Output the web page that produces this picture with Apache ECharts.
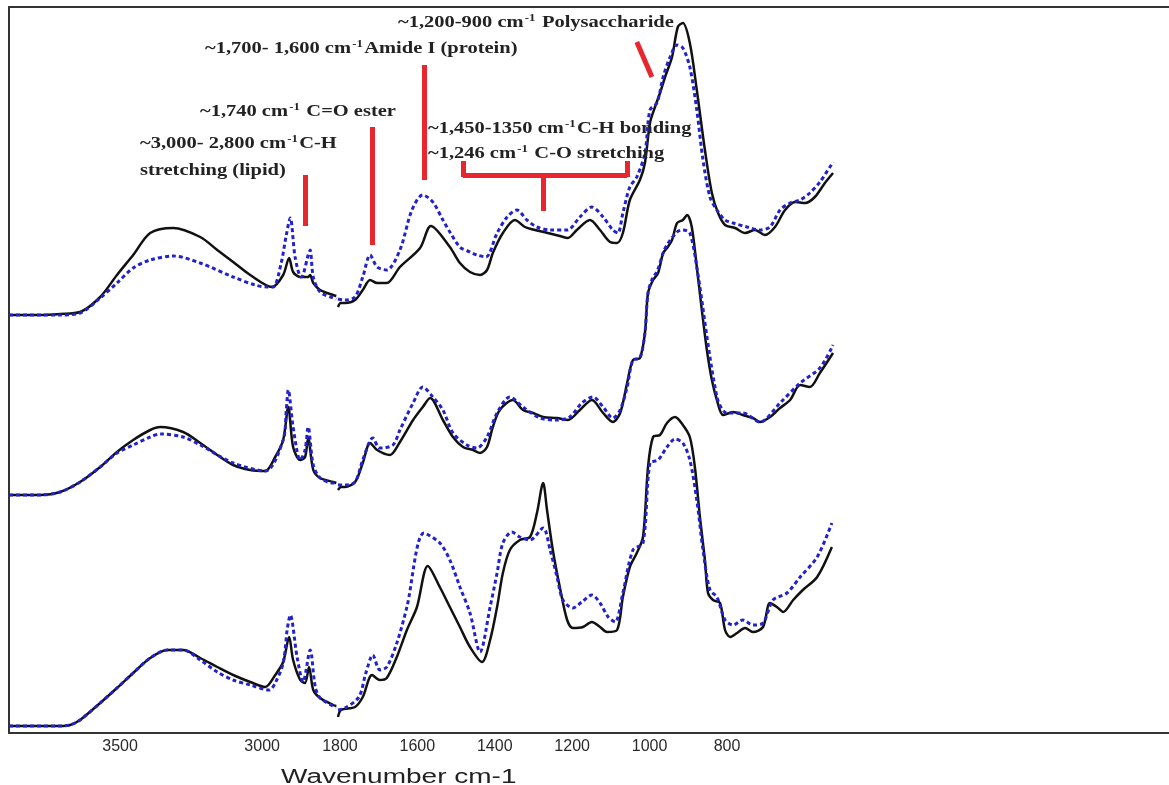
<!DOCTYPE html>
<html><head><meta charset="utf-8">
<script src="https://cdn.jsdelivr.net/npm/echarts@6/dist/echarts.min.js"></script>
<style>html,body{margin:0;padding:0;background:#fff}#c{width:1169px;height:785px}</style>
</head><body><div id="c"></div>
<script>
// Tick labels (wavenumber, cm-1) on the broken axis
const leftTicks = [3500, 3000];
const rightTicks = [1800, 1600, 1400, 1200, 1000, 800];

// Sample 1 (top pair) [wavenumber, absorbance offset units]
const s1BlackLeft = [[3891,2.09],[3782,2.09],[3711,2.095],[3641,2.105],[3570,2.18],[3511,2.29],[3454,2.39],[3394,2.50],[3313,2.525],[3218,2.48],[3158,2.415],[3102,2.355],[3042,2.29],[2965,2.23],[2926,2.29],[2905,2.375],[2891,2.305],[2866,2.28],[2838,2.28],[2831,2.29],[2820,2.25],[2796,2.215],[2750,2.19],[2739,2.185]];
const s1BlackRight = [[1805,2.13],[1798,2.15],[1787,2.15],[1761,2.165],[1741,2.215],[1722,2.265],[1704,2.25],[1679,2.25],[1645,2.33],[1593,2.425],[1565,2.535],[1516,2.43],[1490,2.35],[1464,2.305],[1438,2.29],[1420,2.315],[1405,2.40],[1379,2.50],[1348,2.565],[1322,2.53],[1296,2.515],[1263,2.50],[1232,2.485],[1211,2.475],[1188,2.515],[1154,2.565],[1128,2.515],[1102,2.455],[1084,2.45],[1069,2.50],[1051,2.665],[1025,2.765],[1012,2.85],[999,3.05],[986,3.13],[973,3.20],[960,3.28],[942,3.38],[927,3.53],[914,3.55],[896,3.45],[878,3.215],[857,2.915],[839,2.70],[823,2.60],[805,2.54],[779,2.525],[753,2.50],[728,2.515],[702,2.49],[676,2.53],[650,2.615],[624,2.655],[598,2.65],[573,2.68],[547,2.75],[526,2.80]];
const s1BlueLeft = [[3891,2.09],[3782,2.09],[3711,2.09],[3641,2.10],[3570,2.175],[3511,2.25],[3454,2.325],[3394,2.365],[3313,2.385],[3218,2.35],[3102,2.28],[3025,2.24],[2982,2.23],[2961,2.23],[2933,2.35],[2915,2.49],[2901,2.575],[2884,2.38],[2863,2.28],[2856,2.29],[2838,2.39],[2831,2.415],[2820,2.28],[2796,2.205],[2750,2.175],[2739,2.17]];
const s1BlueRight = [[1805,2.17],[1787,2.165],[1761,2.18],[1741,2.28],[1722,2.39],[1704,2.33],[1679,2.315],[1645,2.415],[1614,2.615],[1586,2.69],[1560,2.655],[1534,2.565],[1516,2.505],[1490,2.43],[1464,2.405],[1446,2.39],[1423,2.38],[1394,2.50],[1368,2.58],[1343,2.615],[1317,2.565],[1291,2.53],[1257,2.515],[1213,2.515],[1180,2.58],[1149,2.63],[1120,2.58],[1095,2.515],[1082,2.50],[1069,2.60],[1051,2.73],[1033,2.78],[1012,2.90],[999,3.115],[981,3.15],[965,3.28],[947,3.38],[929,3.44],[914,3.425],[896,3.33],[878,3.115],[862,2.865],[844,2.68],[826,2.615],[805,2.565],[784,2.55],[748,2.53],[715,2.515],[689,2.53],[663,2.615],[637,2.65],[611,2.665],[586,2.70],[560,2.755],[526,2.855]];

// Sample 2 (middle pair)
const s2BlackLeft = [[3891,1.19],[3782,1.19],[3711,1.205],[3641,1.255],[3570,1.33],[3511,1.405],[3454,1.465],[3394,1.515],[3359,1.53],[3278,1.505],[3218,1.45],[3158,1.39],[3102,1.34],[3042,1.315],[2989,1.31],[2954,1.38],[2926,1.465],[2908,1.63],[2891,1.43],[2866,1.365],[2849,1.38],[2838,1.475],[2820,1.315],[2796,1.275],[2750,1.255],[2739,1.25]];
const s2BlackRight = [[1805,1.215],[1797,1.23],[1787,1.23],[1761,1.255],[1741,1.35],[1722,1.45],[1704,1.415],[1671,1.39],[1645,1.455],[1611,1.565],[1586,1.63],[1567,1.675],[1534,1.565],[1508,1.48],[1482,1.43],[1456,1.415],[1438,1.40],[1420,1.43],[1405,1.53],[1387,1.615],[1353,1.665],[1327,1.615],[1301,1.60],[1275,1.58],[1239,1.575],[1211,1.565],[1180,1.615],[1149,1.665],[1120,1.60],[1095,1.555],[1076,1.60],[1058,1.75],[1043,1.865],[1025,1.875],[1012,2.00],[1004,2.20],[991,2.265],[978,2.30],[965,2.40],[955,2.425],[942,2.465],[929,2.55],[914,2.565],[903,2.59],[891,2.53],[878,2.33],[865,2.115],[852,1.915],[839,1.765],[826,1.665],[810,1.59],[784,1.605],[759,1.59],[733,1.575],[715,1.555],[689,1.58],[663,1.625],[637,1.665],[611,1.74],[586,1.73],[560,1.80],[526,1.90]];
const s2BlueLeft = [[3891,1.19],[3782,1.19],[3711,1.205],[3641,1.255],[3570,1.33],[3511,1.40],[3454,1.44],[3394,1.48],[3359,1.495],[3278,1.48],[3218,1.44],[3102,1.35],[2989,1.31],[2926,1.465],[2915,1.615],[2908,1.715],[2891,1.53],[2866,1.365],[2849,1.415],[2838,1.53],[2820,1.34],[2796,1.275],[2750,1.25],[2739,1.25]];
const s2BlueRight = [[1805,1.24],[1787,1.24],[1761,1.255],[1741,1.365],[1715,1.475],[1697,1.425],[1663,1.44],[1645,1.515],[1611,1.65],[1586,1.73],[1560,1.68],[1534,1.615],[1508,1.50],[1472,1.44],[1446,1.425],[1420,1.48],[1394,1.60],[1361,1.68],[1327,1.63],[1283,1.575],[1239,1.565],[1206,1.58],[1175,1.65],[1146,1.68],[1120,1.63],[1095,1.575],[1076,1.615],[1058,1.73],[1043,1.865],[1025,1.875],[1012,2.00],[1004,2.20],[991,2.28],[981,2.305],[965,2.40],[955,2.44],[929,2.505],[914,2.515],[896,2.50],[878,2.33],[826,1.68],[800,1.60],[759,1.60],[715,1.555],[663,1.65],[611,1.75],[560,1.825],[526,1.94]];

// Sample 3 (bottom pair)
const s3BlackLeft = [[3891,0.035],[3782,0.035],[3711,0.035],[3676,0.04],[3641,0.065],[3570,0.15],[3511,0.225],[3454,0.30],[3394,0.375],[3334,0.415],[3278,0.415],[3218,0.375],[3158,0.33],[3102,0.29],[3042,0.255],[2989,0.23],[2954,0.29],[2926,0.355],[2905,0.48],[2891,0.365],[2866,0.265],[2849,0.25],[2835,0.33],[2820,0.215],[2796,0.175],[2750,0.14],[2739,0.135]];
const s3BlackRight = [[1805,0.08],[1797,0.115],[1761,0.13],[1741,0.18],[1717,0.29],[1697,0.265],[1679,0.275],[1653,0.38],[1627,0.515],[1601,0.63],[1573,0.835],[1542,0.73],[1516,0.63],[1490,0.53],[1464,0.43],[1433,0.355],[1412,0.465],[1394,0.63],[1379,0.80],[1361,0.915],[1335,0.965],[1309,0.98],[1291,1.10],[1275,1.25],[1265,1.115],[1250,0.915],[1232,0.73],[1213,0.565],[1198,0.525],[1172,0.53],[1149,0.555],[1128,0.53],[1110,0.505],[1084,0.515],[1069,0.68],[1051,0.83],[1033,0.90],[1017,0.98],[1004,1.33],[991,1.48],[973,1.49],[955,1.55],[934,1.58],[914,1.54],[896,1.48],[883,1.33],[870,1.08],[857,0.865],[849,0.70],[836,0.665],[818,0.65],[805,0.515],[792,0.48],[774,0.50],[753,0.525],[733,0.505],[707,0.53],[689,0.65],[671,0.63],[655,0.605],[629,0.665],[604,0.715],[567,0.78],[529,0.93]];
const s3BlueLeft = [[3891,0.035],[3782,0.035],[3711,0.035],[3676,0.04],[3641,0.065],[3570,0.15],[3511,0.225],[3454,0.30],[3394,0.375],[3334,0.415],[3278,0.415],[3218,0.365],[3158,0.305],[3102,0.265],[3042,0.24],[2975,0.215],[2954,0.25],[2926,0.35],[2912,0.515],[2901,0.59],[2877,0.38],[2856,0.255],[2831,0.415],[2813,0.23],[2796,0.175],[2750,0.135],[2739,0.13]];
const s3BlueRight = [[1805,0.115],[1787,0.125],[1751,0.18],[1733,0.30],[1715,0.39],[1697,0.315],[1679,0.33],[1653,0.45],[1627,0.63],[1583,1.00],[1542,0.95],[1516,0.865],[1490,0.73],[1464,0.60],[1438,0.405],[1412,0.63],[1394,0.80],[1379,0.95],[1356,1.005],[1335,0.98],[1309,0.965],[1275,1.025],[1257,0.915],[1239,0.78],[1224,0.665],[1198,0.625],[1175,0.655],[1149,0.69],[1128,0.65],[1107,0.58],[1089,0.555],[1069,0.70],[1043,0.915],[1017,0.95],[999,1.35],[978,1.365],[955,1.43],[934,1.47],[914,1.45],[896,1.365],[878,1.165],[862,0.915],[844,0.715],[826,0.68],[805,0.565],[784,0.54],[759,0.565],[733,0.54],[707,0.55],[681,0.665],[645,0.70],[611,0.78],[567,0.88],[529,1.05]];

// Red annotation marks in data units: [w1, a1, w2, a2]
const redMarksLeft = [[2849,2.79,2849,2.535]];
const redMarksRight = [
  [1717,3.03,1717,2.44],
  [1583,3.34,1583,2.765],
  [1033,3.455,994,3.28],
  [1482,2.79,1058,2.79],
  [1482,2.86,1482,2.78],
  [1058,2.86,1058,2.78],
  [1275,2.79,1275,2.61]
];

// Annotation texts: [prefix, superscript, suffix]
const annotations = [
  {x:398, y:22, t:['~1,200-900 cm','-1',' Polysaccharide']},
  {x:205, y:48, t:['~1,700- 1,600 cm','-1','Amide I (protein)']},
  {x:200, y:111, t:['~1,740 cm','-1',' C=O ester']},
  {x:428, y:128, t:['~1,450-1350 cm','-1','C-H bonding']},
  {x:428, y:153, t:['~1,246 cm','-1',' C-O stretching']},
  {x:140, y:143, t:['~3,000- 2,800 cm','-1','C-H']},
  {x:140, y:170, t:['stretching (lipid)','','']}
];

const AXIS = '#333';
const RED = '#e8262d';
const BLACK = '#111111';
const BLUE = '#2222cc';

function curve(data, grid, isBlue, marks) {
  const s = {
    type: 'line', data: data, xAxisIndex: grid, yAxisIndex: grid,
    showSymbol: false, smooth: 0.3, silent: true, z: isBlue ? 3 : 2,
    lineStyle: isBlue ? {color: BLUE, width: 3, type: [4, 3], cap: 'butt'} : {color: BLACK, width: 2.5}
  };
  if (marks) {
    s.markLine = {
      silent: true, symbol: ['none','none'], animation: false,
      lineStyle: {color: RED, width: 5, type: 'solid', cap: 'butt'},
      label: {show: false},
      data: marks.map(m => [{coord: [m[0], m[1]]}, {coord: [m[2], m[3]]}])
    };
  }
  return s;
}

const serifBold = 'bold 16px "Liberation Serif", "Times New Roman", serif';
const graphics = annotations.map(a => ({
  type: 'text', x: a.x, y: a.y, scaleX: 1.28, z: 10,
  style: {
    text: '{a|' + a.t[0] + '}' + (a.t[1] ? '{s|' + a.t[1] + '}' : '') + (a.t[2] ? '{a|' + a.t[2] + '}' : ''),
    fill: '#222', verticalAlign: 'middle', align: 'left',
    rich: {
      a: {font: serifBold, fill: '#222', lineHeight: 18, verticalAlign: 'bottom'},
      s: {font: 'bold 10px "Liberation Serif", serif', fill: '#222', lineHeight: 18, verticalAlign: 'top', padding: [0,1,0,1]}
    }
  }
}));
graphics.push({
  type: 'text', x: 281, y: 777, scaleX: 1.4, z: 10,
  style: {text: 'Wavenumber cm-1', font: '20px "Liberation Sans", Arial, sans-serif', fill: '#222', verticalAlign: 'middle', align: 'left'}
});

const lblStyle = {fontSize: 16, fontFamily: '"Liberation Sans", Arial, sans-serif', color: '#2a2a2a', margin: 6, formatter: v => String(v)};

const option = {
  animation: false,
  backgroundColor: '#ffffff',
  grid: [
    {left: 9, width: 329, top: 7, bottom: 52},
    {left: 338, right: 0, top: 7, bottom: 52}
  ],
  xAxis: [
    {type: 'value', gridIndex: 0, min: 2733, max: 3891, inverse: true,
     axisLine: {show: true, lineStyle: {color: AXIS, width: 2}}, axisTick: {show: false}, splitLine: {show: false},
     axisLabel: Object.assign({customValues: leftTicks}, lblStyle)},
    {type: 'value', gridIndex: 1, min: -342, max: 1805, inverse: true,
     axisLine: {show: true, lineStyle: {color: AXIS, width: 2}}, axisTick: {show: false}, splitLine: {show: false},
     axisLabel: Object.assign({customValues: rightTicks}, lblStyle)},
    {type: 'value', gridIndex: 0, position: 'top', min: 2733, max: 3891, inverse: true,
     axisLine: {show: true, lineStyle: {color: AXIS, width: 2}}, axisTick: {show: false}, splitLine: {show: false}, axisLabel: {show: false}},
    {type: 'value', gridIndex: 1, position: 'top', min: -342, max: 1805, inverse: true,
     axisLine: {show: true, lineStyle: {color: AXIS, width: 2}}, axisTick: {show: false}, splitLine: {show: false}, axisLabel: {show: false}}
  ],
  yAxis: [
    {type: 'value', gridIndex: 0, min: 0, max: 3.63,
     axisLine: {show: true, lineStyle: {color: AXIS, width: 2}}, axisTick: {show: false}, splitLine: {show: false}, axisLabel: {show: false}},
    {type: 'value', gridIndex: 1, min: 0, max: 3.63,
     axisLine: {show: false}, axisTick: {show: false}, splitLine: {show: false}, axisLabel: {show: false}}
  ],
  series: [
    curve(s1BlackLeft, 0, false, redMarksLeft),
    curve(s1BlackRight, 1, false, redMarksRight),
    curve(s2BlackLeft, 0, false),
    curve(s2BlackRight, 1, false),
    curve(s3BlackLeft, 0, false),
    curve(s3BlackRight, 1, false),
    curve(s1BlueLeft, 0, true),
    curve(s1BlueRight, 1, true),
    curve(s2BlueLeft, 0, true),
    curve(s2BlueRight, 1, true),
    curve(s3BlueLeft, 0, true),
    curve(s3BlueRight, 1, true)
  ],
  graphic: graphics
};

const chart = echarts.init(document.getElementById('c'), null, {renderer: 'canvas'});
chart.setOption(option);
</script>
</body></html>
